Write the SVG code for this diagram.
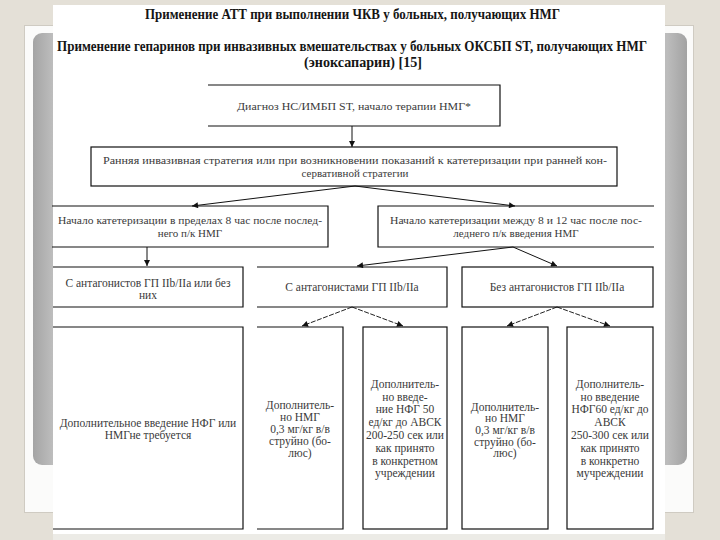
<svg xmlns="http://www.w3.org/2000/svg" width="720" height="540" viewBox="0 0 720 540">
<defs>
<style>
.box{fill:none;stroke:#111;stroke-width:1.2}
.t{font-family:"Liberation Serif","Times New Roman",serif;font-size:11px;fill:#3a3a3a;text-anchor:middle}
.tn{font-family:"Liberation Serif","Times New Roman",serif;font-size:11.5px;fill:#3a3a3a;text-anchor:middle}
.h{font-family:"Liberation Serif","Times New Roman",serif;font-size:14px;font-weight:bold;fill:#151515;text-anchor:middle}
.c{fill:none;stroke:#111;stroke-width:1}
.cd{fill:none;stroke:#222;stroke-width:1;stroke-dasharray:5 1.5}
</style>
<linearGradient id="gl" x1="0" y1="0" x2="1" y2="0">
<stop offset="0" stop-color="#a4a4a4"/>
<stop offset="0.03" stop-color="#bdbdbd"/>
<stop offset="0.5" stop-color="#d6d6d6"/>
<stop offset="0.97" stop-color="#bcbcbc"/>
<stop offset="1" stop-color="#a2a2a2"/>
</linearGradient>
<marker id="ah" viewBox="0 0 10 10" refX="10" refY="5" markerWidth="8" markerHeight="6" markerUnits="userSpaceOnUse" orient="auto">
<path d="M0,0 L10,5 L0,10 z" fill="#111"/>
</marker>
</defs>

<g id="background">
<rect x="0" y="0" width="720" height="540" fill="#e4e0d7"/>
<rect x="24.5" y="25.5" width="669" height="487" fill="#fbfbfa" stroke="#cfcbc2" stroke-width="1"/>
<rect x="33" y="33" width="654" height="432" rx="9" fill="url(#gl)"/>
<rect x="53" y="5" width="612" height="529" fill="#ffffff"/>
<rect x="53" y="534" width="612" height="6" fill="#ecebe6"/>
</g>

<g id="titles">
<text class="h" x="352.5" y="19" textLength="415" lengthAdjust="spacingAndGlyphs">Применение АТТ при выполнении ЧКВ у больных, получающих НМГ</text>
<text class="h" x="352" y="51" textLength="590" lengthAdjust="spacingAndGlyphs">Применение гепаринов при инвазивных вмешательствах у больных ОКСБП ST, получающих НМГ</text>
<text class="h" x="363" y="67" textLength="118" lengthAdjust="spacingAndGlyphs">(эноксапарин) [15]</text>
</g>

<g id="connectors">
<line class="c" x1="352" y1="126" x2="352" y2="147" marker-end="url(#ah)"/>
<line class="c" x1="355" y1="186" x2="192" y2="206" marker-end="url(#ah)"/>
<line class="c" x1="355" y1="186" x2="515" y2="206" marker-end="url(#ah)"/>
<line class="c" x1="147" y1="247" x2="147" y2="266" marker-end="url(#ah)"/>
<line class="c" x1="513" y1="247" x2="357" y2="266" marker-end="url(#ah)"/>
<line class="c" x1="513" y1="247" x2="557" y2="266" marker-end="url(#ah)"/>
<line class="cd" x1="352" y1="307" x2="302" y2="326" marker-end="url(#ah)"/>
<line class="cd" x1="352" y1="307" x2="403" y2="326" marker-end="url(#ah)"/>
<line class="cd" x1="557" y1="307" x2="507" y2="326" marker-end="url(#ah)"/>
<line class="cd" x1="557" y1="307" x2="610" y2="326" marker-end="url(#ah)"/>
</g>

<g id="n-diag">
<path class="box" d="M208,85 H500 V126 H208"/>
<text class="t" x="354" y="110" textLength="234" lengthAdjust="spacingAndGlyphs">Диагноз НС/ИМБП ST, начало терапии НМГ*</text>
</g>

<g id="n-early">
<rect class="box" x="91" y="147" width="526" height="39"/>
<text class="t" x="355" y="164" textLength="504" lengthAdjust="spacingAndGlyphs">Ранняя инвазивная стратегия или при возникновении показаний к катетеризации при ранней кон-</text>
<text class="t" x="355" y="177">сервативной стратегии</text>
</g>

<g id="n-cath8">
<path class="box" d="M52,206 H328 V247 H52"/>
<text class="t" x="190" y="224" textLength="264" lengthAdjust="spacingAndGlyphs">Начало катетеризации в пределах 8 час после послед-</text>
<text class="t" x="190" y="237">него п/к НМГ</text>
</g>

<g id="n-cath812">
<path class="box" d="M654,206 H378 V247 H654"/>
<text class="t" x="516" y="224" textLength="252" lengthAdjust="spacingAndGlyphs">Начало катетеризации между 8 и 12 час после пос-</text>
<text class="t" x="516" y="237">леднего п/к введения НМГ</text>
</g>

<g id="n-anyanta">
<path class="box" d="M53,267 H243 V307 H53"/>
<text class="tn" x="148" y="287">С антагонистов ГП IIb/IIa или без</text>
<text class="tn" x="148" y="299">них</text>
</g>

<g id="n-withanta">
<path class="box" d="M257,267 H447 V307 H257"/>
<text class="tn" x="352" y="291">С антагонистами ГП IIb/IIa</text>
</g>

<g id="n-noanta">
<rect class="box" x="462" y="267" width="191" height="40"/>
<text class="tn" x="557" y="291">Без антагонистов ГП IIb/IIa</text>
</g>

<g id="n-none">
<path class="box" d="M53,327 H243 V529 H53"/>
<text class="tn" x="148" y="427">Дополнительное введение НФГ или</text>
<text class="tn" x="148" y="439">НМГне требуется</text>
</g>

<g id="n-lmwh1">
<path class="box" d="M257,327 H343 V529 H257"/>
<text class="tn" x="300" y="409">Дополнитель-</text>
<text class="tn" x="300" y="421">но НМГ</text>
<text class="tn" x="300" y="433">0,3 мг/кг в/в</text>
<text class="tn" x="300" y="445">струйно (бо-</text>
<text class="tn" x="300" y="457">люс)</text>
</g>

<g id="n-ufh50">
<rect class="box" x="363" y="327" width="84" height="202"/>
<text class="tn" x="405" y="388">Дополнитель-</text>
<text class="tn" x="405" y="401">но введе-</text>
<text class="tn" x="405" y="413">ние НФГ 50</text>
<text class="tn" x="405" y="426">ед/кг до АВСК</text>
<text class="tn" x="405" y="439">200-250 сек или</text>
<text class="tn" x="405" y="452">как принято</text>
<text class="tn" x="405" y="465">в конкретном</text>
<text class="tn" x="405" y="477">учреждении</text>
</g>

<g id="n-lmwh2">
<rect class="box" x="462" y="327" width="86" height="202"/>
<text class="tn" x="505" y="411">Дополнитель-</text>
<text class="tn" x="505" y="422">но НМГ</text>
<text class="tn" x="505" y="434">0,3 мг/кг в/в</text>
<text class="tn" x="505" y="446">струйно (бо-</text>
<text class="tn" x="505" y="457">люс)</text>
</g>

<g id="n-ufh60">
<rect class="box" x="567" y="327" width="86" height="202"/>
<text class="tn" x="610" y="388">Дополнитель-</text>
<text class="tn" x="610" y="401">но введение</text>
<text class="tn" x="610" y="413">НФГ60 ед/кг до</text>
<text class="tn" x="610" y="426">АВСК</text>
<text class="tn" x="610" y="439">250-300 сек или</text>
<text class="tn" x="610" y="452">как принято</text>
<text class="tn" x="610" y="465">в конкретно</text>
<text class="tn" x="610" y="477">мучреждении</text>
</g>
</svg>
